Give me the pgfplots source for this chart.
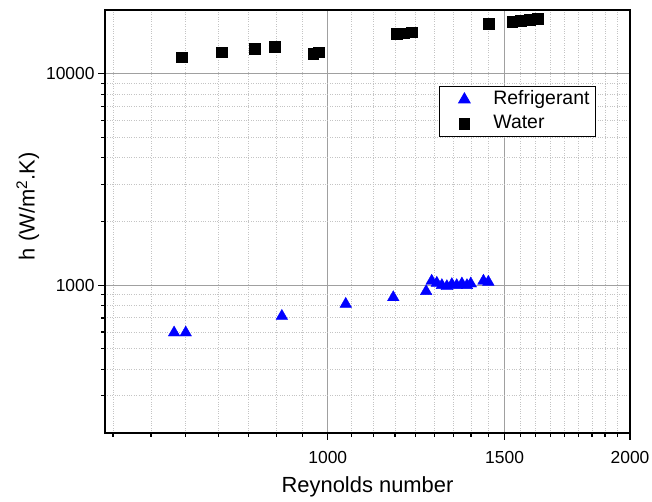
\documentclass[border=0pt]{standalone}
\usepackage{fontspec}
\setmainfont{Liberation Sans}
\usepackage{pgfplots}
\pgfplotsset{compat=1.18}
\definecolor{gridmaj}{HTML}{A0A0A0}
\definecolor{gridmin}{HTML}{C4C4C4}

\begin{document}
\begin{tikzpicture}
\begin{axis}[
    at={(0,0)}, anchor=south west,
    scale only axis, width=525bp, height=423bp,
    xmode=log, ymode=log,
    xmin=600, xmax=2000, ymin=200, ymax=20000,
    xtick={1000,1500,2000}, xticklabels={1000,1500,2000},
    minor xtick={611.1,666.7,722.2,777.8,833.3,888.9,944.4,
        1055.6,1111.1,1166.7,1222.2,1277.8,1333.3,1388.9,1444.4,
        1555.6,1611.1,1666.7,1722.2,1777.8,1833.3,1888.9,1944.4},
    ytick={1000,10000}, yticklabels={1000,10000},
    minor ytick={300,400,500,600,700,800,900,
        2000,3000,4000,5000,6000,7000,8000,9000},
    tick align=outside, xtick pos=bottom, ytick pos=left,
    major tick length=7bp, minor tick length=4bp,
    tick style={black, line width=1.2bp},
    axis line style={line width=1.5bp},
    grid=both,
    major grid style={gridmaj, line width=1bp},
    minor grid style={gridmin, dotted, line width=0.9bp},
    /pgf/number format/assume math mode=true,
    tick label style={font=\fontsize{17.5}{20}\selectfont},
    xticklabel style={yshift=-8bp},
    label style={font=\fontsize{22}{26}\selectfont},
    xlabel={Reynolds number},
    ylabel={h (W/m\textsuperscript{2}.K)},
    xlabel style={at={(axis description cs:0.5,-0.128)}, anchor=center},
    ylabel style={at={(axis description cs:-0.147,0.536)}, anchor=center},
    legend style={at={(axis description cs:0.935,0.820)}, anchor=north east,
        draw=black, line width=0.8bp, fill=white,
        inner xsep=6bp, inner ysep=4bp, row sep=6bp,
        nodes={inner sep=0bp, text height=14bp, text depth=4bp},
        font=\fontsize{19.5}{23}\selectfont},
    legend cell align=left,
    legend image code/.code={
        \path[draw=none] (0bp,0bp) -- (48bp,0bp);
        \draw[#1] plot coordinates {(19bp,0bp)};
    },
]
\addplot[only marks, mark=triangle*, mark size=6.7bp,
    mark options={draw=blue, fill=blue}] coordinates {
    (703,596) (722,596) (900,714) (1042,814) (1162,875) (1253,935)
    (1269,1047) (1284,1024) (1299,998) (1314,987) (1329,1009)
    (1344,998) (1360,1016) (1376,998) (1388,1016)
    (1429,1047) (1445,1035)
};
\addlegendentry{Refrigerant}
\addplot[only marks, mark=square*, mark size=5.4bp,
    mark options={draw=black, fill=black}] coordinates {
    (716,11960) (784,12620) (846,13120) (886,13360) (967,12480) (980,12620)
    (1172,15410) (1191,15520) (1213,15690)
    (1447,17160) (1526,17530) (1557,17780) (1590,17980) (1619,18170)
};
\addlegendentry{Water}
\end{axis}
\pgfresetboundingbox
\path[use as bounding box] (-105bp,-69bp) rectangle (547bp,433bp);
\end{tikzpicture}
\end{document}
